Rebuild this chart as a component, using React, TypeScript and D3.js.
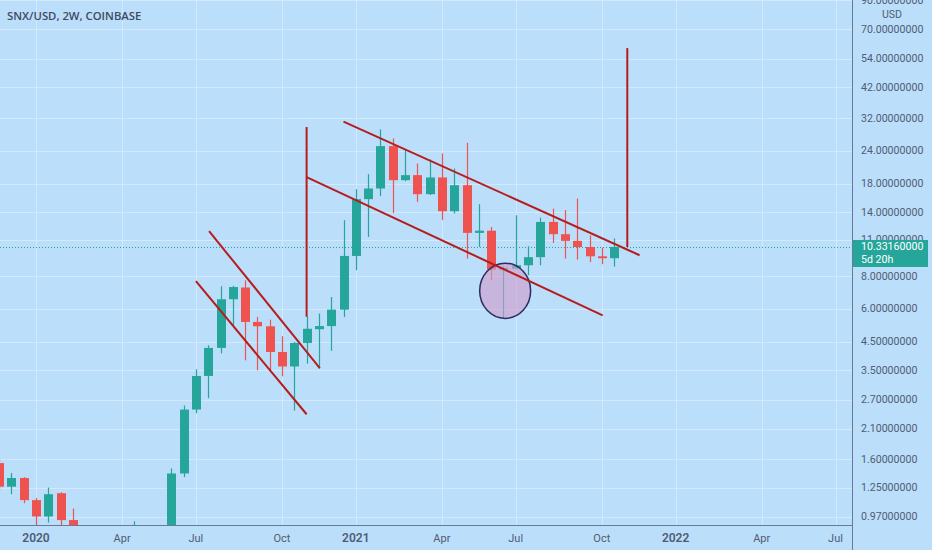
import { useRef, useEffect } from 'react';
import * as d3 from 'd3';

// 2W candles, first one starts 2019-11-25
const firstBar = '2019-11-25';
const opens = [
  1.55, 1.26, 1.36, 1.12, 0.97, 1.19, 0.94, 0.8, 0.74, 0.52, 0.62, 0.72, 0.82, 0.78, 0.84,
  1.415, 2.48, 3.33, 4.26, 6.53, 7.24, 5.35, 5.15, 4.11, 3.62, 4.45, 5.02, 5.16, 5.96, 9.55,
  15.72, 17.26, 25.04, 18.57, 19.41, 16.42, 19.02, 14.14, 17.77, 11.69, 11.92, 8.47, 8.55,
  8.8, 9.45, 12.87, 11.56, 10.9, 10.33, 9.52, 9.36,
];
const highs = [
  1.61, 1.42, 1.37, 1.14, 1.25, 1.2, 1.04, 0.86, 0.8, 0.7, 0.82, 0.93, 0.88, 0.9, 1.48,
  2.57, 3.53, 4.36, 7.32, 7.35, 7.71, 5.59, 5.46, 4.72, 4.49, 5.62, 5.76, 6.66, 13.07, 17.16,
  19.58, 29.0, 26.79, 24.32, 21.51, 22.28, 23.48, 20.58, 25.77, 15.04, 12.32, 8.7, 13.65,
  10.4, 13.38, 14.48, 14.27, 15.81, 11.45, 10.28, 11.13,
];
const lows = [
  1.22, 1.18, 1.09, 0.86, 0.92, 0.86, 0.75, 0.68, 0.4, 0.48, 0.58, 0.68, 0.7, 0.72, 0.8,
  1.37, 2.4, 2.74, 4.06, 5.19, 3.82, 3.5, 3.5, 3.32, 2.46, 3.71, 3.55, 4.15, 5.59, 8.42,
  11.28, 16.14, 13.93, 18.4, 15.35, 16.3, 13.07, 13.86, 9.33, 10.33, 7.71, 5.54, 8.5,
  8.06, 8.8, 10.71, 9.33, 9.25, 9.06, 8.88, 8.7,
];
const closes = [
  1.26, 1.36, 1.12, 0.97, 1.18, 0.94, 0.8, 0.74, 0.52, 0.62, 0.72, 0.82, 0.78, 0.84, 1.415,
  2.48, 3.33, 4.26, 6.53, 7.27, 5.35, 5.15, 4.11, 3.62, 4.45, 5.04, 5.16, 5.96, 9.55, 15.72,
  17.26, 25.04, 18.57, 19.41, 16.42, 19.02, 14.14, 17.77, 11.69, 11.92, 8.47, 8.59, 8.8,
  9.45, 12.87, 11.56, 10.9, 10.33, 9.52, 9.36, 10.3316,
];

const priceTicks = [90, 70, 54, 42, 32, 24, 18, 14, 11, 8, 6, 4.5, 3.5, 2.7, 2.1, 1.6, 1.25, 0.97];
const lastPrice = 10.3316;
const countdown = '5d 20h';

// drawings: [date, price] pairs
const trendLines: Array<[string, number, string, number]> = [
  ['2020-07-06', 7.65, '2020-11-09', 2.38],
  ['2020-07-21', 11.87, '2020-11-24', 3.57],
  ['2020-11-09', 29.6, '2020-11-09', 5.6],
  ['2020-11-09', 19.07, '2021-10-12', 5.67],
  ['2020-12-21', 31.05, '2021-11-23', 9.61],
  ['2021-11-09', 59.2, '2021-11-09', 10.33],
];
const ellipse = { from: '2021-05-25', to: '2021-07-22', top: 8.96, bottom: 5.52 };

const W = 932;
const H = 550;
const plotRight = 852.5;
const plotBottom = 525;
const green = '#26a69a';
const red = '#ef5350';
const textColor = '#4f5d73';
const font = 'Roboto, "Open Sans", sans-serif';

export default function App() {
  const svgRef = useRef<SVGSVGElement>(null);

  useEffect(() => {
    if (!svgRef.current) return;
    const svg = d3.select(svgRef.current);
    svg.selectAll('*').remove();

    const t0 = new Date(firstBar + 'T00:00:00Z');
    const bars = closes.map((c, i) => ({
      date: d3.utcDay.offset(t0, i * 14),
      open: opens[i],
      high: highs[i],
      low: lows[i],
      close: c,
    }));

    const x = d3
      .scaleUtc()
      .domain([new Date('2020-01-06T00:00:00Z'), new Date('2022-07-04T00:00:00Z')])
      .range([36, 835.5]);
    const y = d3.scaleLog().domain([0.97, 70]).range([516.5, 29]);
    const parse = (s: string) => new Date(s + 'T00:00:00Z');

    svg.append('rect').attr('width', W).attr('height', H).attr('fill', '#bbdefb');

    // time ticks: first bar of each quarter month
    const tickDates: Date[] = [];
    for (let i = 0; i < 70; i++) {
      const d = d3.utcDay.offset(t0, i * 14);
      const prev = d3.utcDay.offset(d, -14);
      if (d.getUTCMonth() !== prev.getUTCMonth() && d.getUTCMonth() % 3 === 0) tickDates.push(d);
    }

    const grid = svg.append('g').attr('stroke', '#d4e9fc').attr('stroke-width', 1);
    grid
      .selectAll('.vg')
      .data(tickDates)
      .enter()
      .append('line')
      .attr('x1', (d) => Math.round(x(d)) + 0.5)
      .attr('x2', (d) => Math.round(x(d)) + 0.5)
      .attr('y1', 0)
      .attr('y2', plotBottom);
    grid
      .selectAll('.hg')
      .data(priceTicks)
      .enter()
      .append('line')
      .attr('x1', 0)
      .attr('x2', plotRight)
      .attr('y1', (d) => Math.round(y(d)) + 0.5)
      .attr('y2', (d) => Math.round(y(d)) + 0.5);

    svg
      .append('clipPath')
      .attr('id', 'plot')
      .append('rect')
      .attr('width', plotRight)
      .attr('height', plotBottom);
    const plot = svg.append('g').attr('clip-path', 'url(#plot)');

    // last price line
    plot
      .append('line')
      .attr('x1', 0)
      .attr('x2', plotRight)
      .attr('y1', Math.round(y(lastPrice)) + 0.5)
      .attr('y2', Math.round(y(lastPrice)) + 0.5)
      .attr('stroke', green)
      .attr('stroke-dasharray', '1,2');

    // Candles
    const bw = 9;
    const candle = plot.selectAll('.c').data(bars).enter().append('g');
    candle
      .append('line')
      .attr('x1', (d) => Math.round(x(d.date)) + 0.5)
      .attr('x2', (d) => Math.round(x(d.date)) + 0.5)
      .attr('y1', (d) => y(d.high))
      .attr('y2', (d) => y(d.low))
      .attr('stroke', (d) => (d.close >= d.open ? green : red))
      .attr('stroke-width', 1.2);
    candle
      .append('rect')
      .attr('x', (d) => Math.round(x(d.date)) + 0.5 - bw / 2)
      .attr('width', bw)
      .attr('y', (d) => y(Math.max(d.open, d.close)))
      .attr('height', (d) => Math.max(1, Math.abs(y(d.open) - y(d.close))))
      .attr('fill', (d) => (d.close >= d.open ? green : red));

    // Ellipse marker
    const ex0 = x(parse(ellipse.from));
    const ex1 = x(parse(ellipse.to));
    const ey0 = y(ellipse.top);
    const ey1 = y(ellipse.bottom);
    plot
      .append('ellipse')
      .attr('cx', (ex0 + ex1) / 2)
      .attr('cy', (ey0 + ey1) / 2)
      .attr('rx', (ex1 - ex0) / 2)
      .attr('ry', (ey1 - ey0) / 2)
      .attr('fill', '#ce9ccb')
      .attr('fill-opacity', 0.62)
      .attr('stroke', '#2b2d5e')
      .attr('stroke-width', 1.5);

    // Trend lines
    plot
      .selectAll('.tl')
      .data(trendLines)
      .enter()
      .append('line')
      .attr('x1', (d) => x(parse(d[0])))
      .attr('y1', (d) => y(d[1]))
      .attr('x2', (d) => x(parse(d[2])))
      .attr('y2', (d) => y(d[3]))
      .attr('stroke', '#b71c1c')
      .attr('stroke-width', 2);

    // Axes
    svg
      .append('line')
      .attr('x1', 0)
      .attr('x2', plotRight)
      .attr('y1', plotBottom + 0.5)
      .attr('y2', plotBottom + 0.5)
      .attr('stroke', '#6a7a92');
    svg
      .append('line')
      .attr('x1', plotRight)
      .attr('x2', plotRight)
      .attr('y1', 0)
      .attr('y2', H)
      .attr('stroke', '#6a7a92');

    const monthName = d3.utcFormat('%b');
    svg
      .selectAll('.tx')
      .data(tickDates)
      .enter()
      .append('text')
      .attr('x', (d) => x(d))
      .attr('y', 541.5)
      .attr('text-anchor', 'middle')
      .attr('font-family', font)
      .attr('font-size', (d) => (d.getUTCMonth() === 0 ? '12px' : '11px'))
      .attr('font-weight', (d) => (d.getUTCMonth() === 0 ? 600 : 400))
      .attr('fill', textColor)
      .text((d) => (d.getUTCMonth() === 0 ? String(d.getUTCFullYear()) : monthName(d)));

    const fmt = d3.format('.8f');
    svg
      .selectAll('.ty')
      .data(priceTicks)
      .enter()
      .append('text')
      .attr('x', 861)
      .attr('y', (d) => y(d))
      .attr('dominant-baseline', 'central')
      .attr('font-family', font)
      .attr('font-size', '10.6px')
      .attr('fill', textColor)
      .text((d) => fmt(d));
    svg
      .append('text')
      .attr('x', 892)
      .attr('y', 14)
      .attr('text-anchor', 'middle')
      .attr('dominant-baseline', 'central')
      .attr('font-family', font)
      .attr('font-size', '10.6px')
      .attr('fill', textColor)
      .text('USD');

    // Last price badge
    const ly = y(lastPrice);
    svg
      .append('rect')
      .attr('x', plotRight + 0.5)
      .attr('y', ly - 7)
      .attr('width', 75)
      .attr('height', 27)
      .attr('fill', green);
    svg
      .append('text')
      .attr('x', 861)
      .attr('y', ly)
      .attr('dominant-baseline', 'central')
      .attr('font-family', font)
      .attr('font-size', '10.6px')
      .attr('fill', '#fff')
      .text(fmt(lastPrice));
    svg
      .append('text')
      .attr('x', 861)
      .attr('y', ly + 13)
      .attr('dominant-baseline', 'central')
      .attr('font-family', font)
      .attr('font-size', '10.6px')
      .attr('fill', '#fff')
      .text(countdown);

    // Title
    svg
      .append('text')
      .attr('x', 7)
      .attr('y', 15)
      .attr('dominant-baseline', 'central')
      .attr('font-family', '"Open Sans", sans-serif')
      .attr('font-size', '11.3px')
      .attr('font-weight', 600)
      .attr('fill', '#3e4a5e')
      .text('SNX/USD, 2W, COINBASE');
  }, []);

  return (
    <svg
      ref={svgRef}
      width={W}
      height={H}
      style={{ position: 'absolute', left: 0, top: 0, display: 'block' }}
    />
  );
}
